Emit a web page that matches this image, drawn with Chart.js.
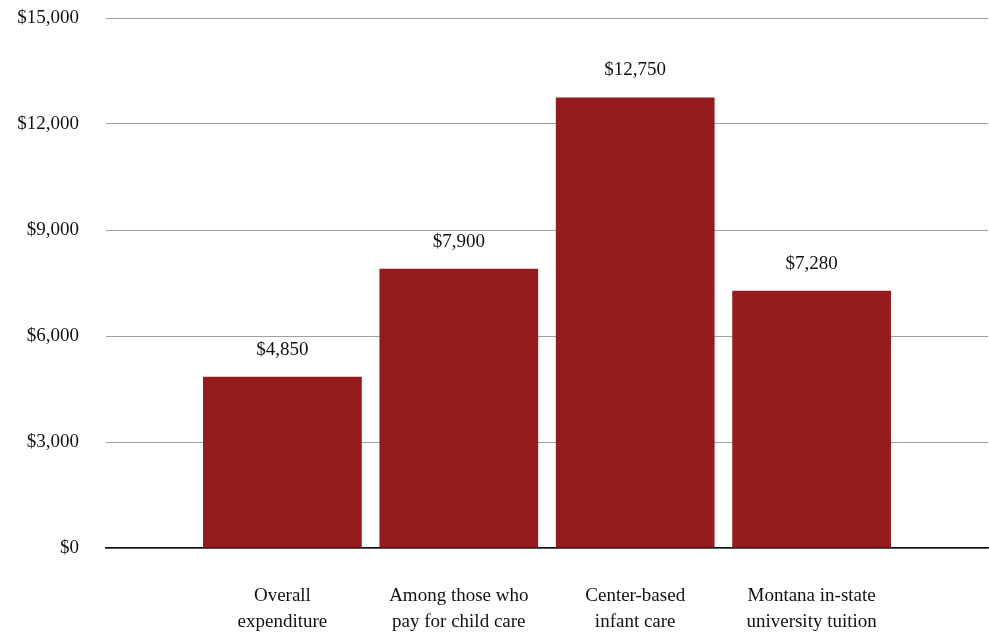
<!DOCTYPE html>
<html>
<head>
<meta charset="utf-8">
<title>Child care cost comparison</title>
<script src="https://cdn.jsdelivr.net/npm/chart.js@4/dist/chart.umd.min.js"></script>
<style>
  html, body { margin: 0; padding: 0; background: #fff; }
  #wrap { width: 989px; height: 634px; position: relative; }
</style>
</head>
<body>
<div id="wrap"><canvas id="costChart"></canvas></div>
<script>
// categories (two lines each) and yearly cost in dollars
const categories = [
  ['Overall', 'expenditure'],
  ['Among those who', 'pay for child care'],
  ['Center-based', 'infant care'],
  ['Montana in-state', 'university tuition']
];
const costs = [4850, 7900, 12750, 7280];
const yMax = 15000;
const yStep = 3000;

const barColor = '#951b1f';
const serif = '"Liberation Serif", "DejaVu Serif", serif';
const fontSize = 19;

const fmt = v => '$' + Number(v).toLocaleString('en-US');

// one empty slot on each side so the bars sit inset from the grid ends
const labels = [''].concat(categories, ['']);
const values = [null].concat(costs, [null]);

// value above each bar
const valueLabels = {
  id: 'valueLabels',
  afterDatasetsDraw(chart) {
    const ctx = chart.ctx;
    const meta = chart.getDatasetMeta(0);
    ctx.save();
    ctx.font = fontSize + 'px ' + serif;
    ctx.fillStyle = '#111';
    ctx.textAlign = 'center';
    ctx.textBaseline = 'middle';
    meta.data.forEach((bar, i) => {
      const v = values[i];
      if (v == null) return;
      ctx.fillText(fmt(v), bar.x, bar.y - 27);
    });
    ctx.restore();
  }
};

new Chart(document.getElementById('costChart'), {
  type: 'bar',
  data: {
    labels: labels,
    datasets: [{
      data: values,
      backgroundColor: barColor,
      borderWidth: 0,
      barPercentage: 0.9,
      categoryPercentage: 1
    }]
  },
  options: {
    responsive: true,
    maintainAspectRatio: false,
    animation: false,
    layout: { padding: { top: 18, right: 1, left: 0, bottom: 0 } },
    plugins: {
      legend: { display: false },
      tooltip: { enabled: false }
    },
    scales: {
      x: {
        offset: false,
        grid: { display: false, drawTicks: false },
        border: { display: true, color: '#111', width: 1.5 },
        ticks: {
          autoSkip: false,
          maxRotation: 0,
          padding: 35,
          color: '#111',
          font: { family: serif, size: fontSize, lineHeight: 1.37 }
        },
        afterFit(scale) {
          // tick padding would otherwise be added to the side gaps
          scale.paddingLeft = 0;
          scale.paddingRight = 0;
          scale.height = 86;
        }
      },
      y: {
        min: 0,
        max: yMax,
        grid: { color: '#a0a0a0', lineWidth: 1, drawTicks: false },
        border: { display: false },
        ticks: {
          stepSize: yStep,
          padding: 27,
          color: '#111',
          font: { family: serif, size: fontSize },
          callback: v => fmt(v)
        },
        afterFit(scale) {
          scale.paddingTop = 0;
          scale.paddingBottom = 0;
          scale.width = 106;
        }
      }
    }
  },
  plugins: [valueLabels]
});
</script>
</body>
</html>
